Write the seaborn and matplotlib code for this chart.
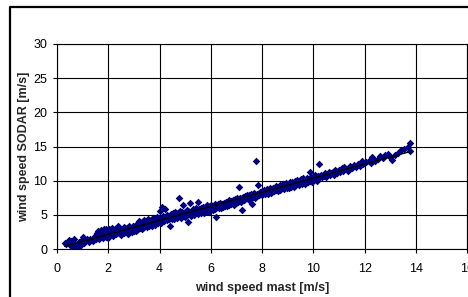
import matplotlib
matplotlib.use("Agg")
import matplotlib.pyplot as plt
from matplotlib.lines import Line2D
import seaborn as sns

# wind speed measured at the mast [m/s]
mast_speed = [
    0.30, 0.35, 0.42, 0.48, 0.50, 0.55, 0.60, 0.62, 0.68, 0.72,
    0.75, 0.78, 0.80, 0.85, 0.90, 0.95, 1.00, 1.05, 1.10, 1.18,
    1.25, 1.30, 1.38, 1.42, 1.48,
    1.50, 1.52, 1.55, 1.58, 1.60, 1.62, 1.65, 1.68, 1.70, 1.72,
    1.75, 1.78, 1.80, 1.82, 1.85, 1.88, 1.90, 1.92, 1.95, 1.98,
    2.00, 2.03, 2.05, 2.08, 2.10, 2.13, 2.15, 2.18, 2.20, 2.24,
    2.28, 2.30, 2.35, 2.38, 2.40, 2.45, 2.48, 2.50, 2.55, 2.58,
    2.60, 2.63, 2.66, 2.70, 2.72, 2.75, 2.78, 2.80, 2.83, 2.86,
    2.88, 2.90, 2.93, 2.95, 2.98, 3.00, 3.02, 3.05, 3.08, 3.10,
    3.12, 3.15, 3.18, 3.20, 3.22, 3.25, 3.28, 3.30, 3.33, 3.35,
    3.38, 3.40, 3.42, 3.45, 3.48, 3.50, 3.52, 3.55, 3.58, 3.60,
    3.63, 3.65, 3.68, 3.70, 3.72, 3.75, 3.78, 3.80, 3.82, 3.85,
    3.88, 3.90, 3.92, 3.95, 3.98, 4.00, 4.03, 4.05, 4.08, 4.10,
    4.12, 4.15, 4.18, 4.20, 4.22, 4.25, 4.28, 4.30, 4.33, 4.35,
    4.38, 4.40, 4.42, 4.45, 4.48, 4.50, 4.53, 4.55, 4.58, 4.60,
    4.63, 4.65, 4.68, 4.70, 4.72, 4.75, 4.78, 4.80, 4.83, 4.85,
    4.88, 4.90, 4.93, 4.95, 4.98,
    5.00, 5.02, 5.05, 5.08, 5.10, 5.12, 5.15, 5.18, 5.20, 5.22,
    5.25, 5.28, 5.30, 5.33, 5.35, 5.38, 5.40, 5.42, 5.45, 5.48,
    5.50, 5.53, 5.55, 5.58, 5.60, 5.62, 5.65, 5.68, 5.70, 5.72,
    5.75, 5.78, 5.80, 5.83, 5.85, 5.88, 5.90, 5.92, 5.95, 5.98,
    6.00, 6.02, 6.05, 6.08, 6.10, 6.12, 6.15, 6.18, 6.20, 6.22,
    6.25, 6.28, 6.30, 6.33, 6.35, 6.38, 6.40, 6.42, 6.45, 6.48,
    6.50, 6.53, 6.55, 6.58, 6.60, 6.62, 6.65, 6.68, 6.70, 6.72,
    6.75, 6.78, 6.80, 6.83, 6.85, 6.88, 6.90, 6.93, 6.95, 6.98,
    7.00, 7.02, 7.05, 7.08, 7.10, 7.12, 7.15, 7.18, 7.20, 7.22,
    7.25, 7.28, 7.30, 7.33, 7.35, 7.38, 7.40, 7.42, 7.45, 7.48,
    7.50, 7.53, 7.55, 7.58, 7.60, 7.62, 7.65, 7.68, 7.70, 7.72,
    7.75, 7.78, 7.80, 7.83, 7.85, 7.88, 7.90, 7.92, 7.95, 7.98,
    8.00, 8.02, 8.05, 8.08, 8.10, 8.12, 8.15, 8.18, 8.20, 8.22,
    8.25, 8.28, 8.30, 8.33, 8.35, 8.38, 8.40, 8.42, 8.45, 8.48,
    8.50, 8.53, 8.55, 8.58, 8.60, 8.62, 8.65, 8.68, 8.70, 8.72,
    8.75, 8.78, 8.80, 8.83, 8.85, 8.88, 8.90, 8.93, 8.95, 8.98,
    9.00, 9.03, 9.05, 9.08, 9.10, 9.13, 9.15, 9.18, 9.20, 9.23,
    9.25, 9.28, 9.30, 9.33, 9.35, 9.38, 9.40, 9.43, 9.45, 9.48,
    9.50, 9.53, 9.55, 9.58, 9.60, 9.63, 9.65, 9.68, 9.70, 9.73,
    9.75, 9.78, 9.80, 9.83, 9.85, 9.88, 9.90, 9.93, 9.95, 9.98,
    10.00, 10.03, 10.05, 10.08, 10.10, 10.13, 10.15, 10.18, 10.20, 10.23,
    10.25, 10.30, 10.35, 10.40, 10.45, 10.50, 10.55, 10.60, 10.65, 10.70,
    10.75, 10.80, 10.85, 10.90, 10.95,
    11.00, 11.05, 11.10, 11.15, 11.20, 11.28, 11.35, 11.42, 11.50, 11.58,
    11.65, 11.72, 11.80, 11.88, 11.95, 12.05, 12.15, 12.25, 12.30, 12.40,
    12.50, 12.60, 12.70, 12.80, 12.90, 13.00, 13.07, 13.20, 13.30, 13.40,
    13.55, 13.70, 13.77, 13.77,
]

# wind speed measured by the SODAR [m/s]
sodar_speed = [
    0.95, 0.70, 0.85, 1.35, 0.60, 1.10, 0.50, 0.90, 1.40, 0.30,
    0.55, 0.80, 0.25, 1.00, 0.45, 1.20, 1.70, 0.95, 1.10, 1.40,
    1.05, 1.50, 1.35, 1.20, 1.60,
    1.90, 1.40, 2.30, 1.70, 2.60, 2.00, 1.50, 2.45, 1.95, 2.80,
    2.10, 1.65, 2.55, 2.95, 2.00, 2.40, 1.70, 3.00, 2.20, 2.65,
    1.55, 2.90, 2.35, 2.05, 2.60, 3.10, 2.25, 1.85, 2.75, 2.45,
    2.95, 2.15, 2.60, 3.30, 2.40, 2.80, 2.10, 3.00, 2.55, 2.85,
    2.35, 3.20, 2.70, 2.50, 3.05, 2.20, 2.90, 3.40, 2.65, 2.45,
    3.10, 2.75, 2.55, 3.35, 2.90, 2.60, 3.25, 3.00, 2.70, 3.50,
    3.60, 2.90, 3.40, 4.10, 3.10, 3.75, 3.30, 3.95, 2.95, 3.55,
    4.30, 3.20, 3.80, 3.45, 4.05, 3.60, 3.15, 4.40, 3.70, 3.35,
    4.00, 3.55, 4.25, 3.30, 3.85, 4.60, 3.65, 4.10, 3.50, 4.35,
    3.90, 4.70, 4.00, 3.75, 4.45, 4.15, 5.60, 3.85, 4.55, 6.20,
    4.25, 4.80, 4.05, 5.90, 4.40, 4.70, 4.20, 5.00, 4.50, 4.35,
    4.90, 3.30, 4.60, 5.10, 4.35, 4.75, 5.20, 4.45, 4.90, 5.40,
    4.65, 5.00, 4.50, 5.25, 4.80, 7.40, 4.95, 5.50, 4.60, 5.15,
    5.35, 4.85, 6.40, 5.05, 4.70,
    5.40, 4.90, 5.70, 5.20, 4.00, 5.55, 5.05, 6.70, 5.30, 4.85,
    5.60, 5.15, 5.85, 5.40, 5.00, 5.75, 5.25, 6.00, 5.50, 5.10,
    6.90, 5.35, 5.80, 5.55, 5.20, 6.05, 5.70, 5.40, 6.20, 5.60,
    5.30, 6.00, 5.75, 6.40, 5.50, 6.10, 5.85, 5.45, 6.25, 6.00,
    6.50, 5.90, 6.20, 5.70, 6.35, 6.05, 5.80, 6.60, 4.70, 6.30,
    6.10, 6.55, 5.95, 6.40, 6.75, 6.20, 6.00, 6.60, 6.35, 6.10,
    6.80, 6.45, 6.25, 6.95, 6.65, 6.30, 6.85, 6.50, 7.10, 6.40,
    6.75, 7.05, 6.55, 6.90, 7.20, 6.70, 6.45, 7.00, 7.30, 6.80,
    7.00, 7.40, 6.85, 7.25, 9.10, 7.05, 7.50, 6.95, 7.35, 5.70,
    7.60, 7.15, 7.45, 7.80, 7.25, 7.65, 7.40, 7.90, 7.55, 7.20,
    7.85, 7.50, 8.00, 7.70, 6.60, 7.95, 7.60, 8.20, 7.85, 7.50,
    12.90, 8.05, 7.75, 9.30, 8.10, 7.85, 8.35, 8.05, 8.20, 7.90,
    8.50, 8.15, 8.30, 8.70, 8.05, 8.45, 8.25, 8.80, 8.40, 8.10,
    8.65, 8.30, 8.90, 8.55, 8.20, 8.75, 8.60, 9.00, 8.45, 8.80,
    8.95, 8.60, 9.20, 8.75, 8.50, 9.05, 8.85, 9.40, 8.70, 9.00,
    9.25, 8.90, 9.55, 9.10, 8.80, 9.35, 9.15, 9.60, 9.00, 9.30,
    9.30, 9.00, 9.55, 9.20, 9.75, 9.10, 9.45, 9.85, 9.35, 9.05,
    9.60, 9.90, 9.40, 9.70, 10.05, 9.50, 9.80, 9.30, 10.00, 9.65,
    9.90, 10.20, 9.55, 9.80, 10.35, 9.70, 10.00, 9.45, 10.15, 9.85,
    10.40, 10.05, 9.75, 10.25, 11.30, 10.00, 10.50, 10.15, 9.80, 10.30,
    10.60, 10.10, 10.45, 10.80, 10.25, 10.55, 9.95, 10.70, 12.50, 10.40,
    10.65, 10.90, 10.50, 10.75, 11.10, 10.60, 10.95, 11.20, 10.80, 11.05,
    11.30, 10.90, 11.50, 11.15, 11.35,
    11.50, 11.20, 11.80, 11.40, 12.00, 11.65, 11.45, 12.10, 11.90, 12.30,
    12.00, 12.45, 12.20, 12.90, 12.50, 12.75, 12.95, 12.60, 13.40, 12.90,
    13.10, 13.60, 13.30, 13.70, 13.90, 13.40, 13.00, 13.80, 14.10, 14.50,
    14.70, 14.90, 15.50, 14.30,
]

x_ticks = [0, 2, 4, 6, 8, 10, 12, 14, 16]
y_ticks = [0, 5, 10, 15, 20, 25, 30]

sns.set_style("white")
plt.rcParams['font.family'] = ['Liberation Sans', 'DejaVu Sans']

W, H = 468, 297
fig = plt.figure(figsize=(W / 100, H / 100), dpi=100)
ax = fig.add_axes([57 / W, 48 / H, 410.3 / W, 205 / H])

sns.regplot(x=mast_speed, y=sodar_speed, ax=ax, ci=None, marker='D',
            scatter_kws=dict(s=15, color='#000080', linewidths=0, alpha=1),
            line_kws=dict(color='black', lw=1))

ax.set_xlim(0, 16)
ax.set_ylim(0, 30)
ax.set_xticks(x_ticks)
ax.set_yticks(y_ticks)
ax.grid(True, color='black', lw=0.8)
ax.set_axisbelow(True)
for sp in ax.spines.values():
    sp.set_color('black')
    sp.set_linewidth(0.8)
ax.tick_params(axis='both', direction='out', length=3, width=0.8,
               color='black', labelsize=9, labelcolor='black',
               left=True, bottom=True)
ax.tick_params(axis='x', pad=7)
ax.tick_params(axis='y', pad=4)

ax.set_xlabel("wind speed mast [m/s]", fontsize=9, fontweight='bold', labelpad=5)
ax.set_ylabel("wind speed SODAR [m/s]", fontsize=9, fontweight='bold', labelpad=2)

# outer chart frame (cut off at right and bottom)
fig.add_artist(Line2D([10 / W, 10 / W, 1.0], [0.0, 1 - 7 / H, 1 - 7 / H],
                      transform=fig.transFigure, color='black', lw=1.6))

fig.savefig("out.png", dpi=100)
